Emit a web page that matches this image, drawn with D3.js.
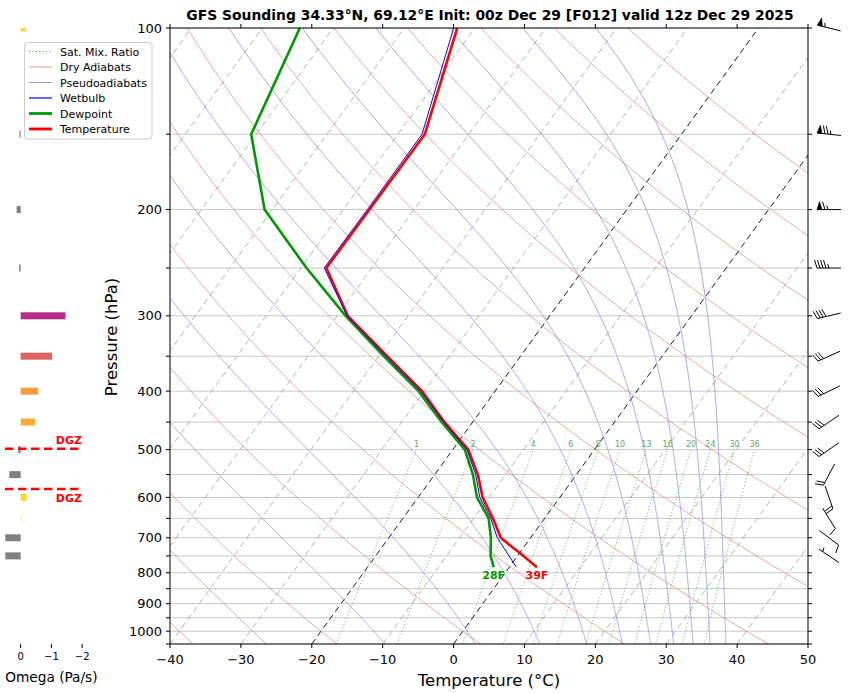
<!DOCTYPE html>
<html><head><meta charset="utf-8">
<script src="https://cdn.jsdelivr.net/npm/d3@7"></script>
<style>
body{margin:0;background:#fff}
svg{display:block}
text{font-family:"DejaVu Sans",sans-serif}
</style>
</head><body>
<svg id="chart" width="851" height="693"></svg>
<script>
// ---------------- DATA ----------------
const titleText = "GFS Sounding 34.33°N, 69.12°E Init: 00z Dec 29 [F012] valid 12z Dec 29 2025";
const levels      = [783, 750, 700, 650, 600, 550, 500, 450, 400, 350, 300, 250, 200, 150, 100];
const temperature = [3.9, 0.8, -4.2, -7.3, -10.9, -13.9, -17.8, -24.0, -30.3, -38.8, -48.5, -56.4, -56.3, -56.2, -62.5];
const dewpoint    = [-2.2, -3.8, -5.6, -7.9, -11.7, -14.6, -18.3, -24.4, -30.8, -39.3, -48.8, -59.2, -71.1, -80.7, -84.7];
const wetbulb     = [1.0, -1.2, -4.7, -7.6, -11.3, -14.2, -18.0, -24.1, -30.5, -39.0, -48.6, -56.7, -56.6, -56.6, -63.0];

const windP   = [100, 150, 200, 250, 300, 350, 400, 450, 500, 550, 600, 650, 700, 750];
const windDir = [284, 276, 270, 270, 257, 246, 244, 236, 235, 208, 161, 148, 127, 304];
const windSpd = [55, 75, 65, 45, 40, 30, 30, 30, 30, 20, 20, 10, 10, 5];

const omegaP   = [100, 150, 200, 250, 300, 350, 400, 450, 500, 550, 600, 650, 700, 750];
const omegaVal = [-0.17, 0.04, 0.13, 0.05, -1.46, -1.02, -0.57, -0.47, 0.08, 0.37, -0.19, -0.02, 0.50, 0.50];

const mixRatios = [1, 2, 4, 6, 8, 10, 13, 16, 20, 24, 30, 36];
const dryThetaC = [-40, -20, 0, 20, 40, 60, 80, 100, 120, 140, 160, 180];
const moistTopTheta = [244.5, 264.5, 284.5, 304.5, 324.5, 344.5, 364.5, 384.5, 404.5, 424.5, 444.5]; // K near 100 hPa
const isotherms = d3.range(-120, 51, 10);
const highlightIsotherms = [0, -20];
const pressureGrid = d3.range(100, 1051, 50);
const pressureLabels = [100, 200, 300, 400, 500, 600, 700, 800, 900, 1000];
const tempTicks = d3.range(-40, 51, 10);
const omegaTicks = [0, -1, -2];
const dgzTemps = [-18, -12];

// ---------------- SETUP ----------------
const svg = d3.select("#chart");
const L = 170, R = 808, T = 28, B = 644;
const xScale = d3.scaleLinear().domain([-40, 50]).range([L, R]);
const yScale = d3.scaleLog().domain([1050, 100]).range([B, T]);
const K = 0.7252;
const sx = (t, p) => xScale(t) + K * (B - yScale(p));

const defs = svg.append("defs");
defs.append("clipPath").attr("id", "plotclip")
  .append("rect").attr("x", L).attr("y", T).attr("width", R - L).attr("height", B - T);
defs.append("clipPath").attr("id", "omegaclip")
  .append("rect").attr("x", 0).attr("y", T).attr("width", 160).attr("height", B - T);

const plot = svg.append("g").attr("clip-path", "url(#plotclip)");
const line = d3.line().x(d => sx(d.t, d.p)).y(d => yScale(d.p));

// isobars
plot.selectAll(".isobar").data(pressureGrid).join("line")
  .attr("x1", L).attr("x2", R).attr("y1", d => yScale(d)).attr("y2", d => yScale(d))
  .attr("stroke", "#c8c8c8").attr("stroke-width", 1);

// isotherms
plot.selectAll(".iso").data(isotherms).join("path")
  .attr("d", t => line([{t, p: 1050}, {t, p: 100}]))
  .attr("fill", "none")
  .attr("stroke", t => highlightIsotherms.includes(t) ? "#000" : "#a0a0a0")
  .attr("stroke-width", t => highlightIsotherms.includes(t) ? 0.9 : 0.8)
  .attr("stroke-dasharray", "6,4");

// dry adiabats
const pSteps = d3.range(1050, 99, -5);
plot.selectAll(".dry").data(dryThetaC).join("path")
  .attr("d", th => line(pSteps.map(p => ({p, t: (th + 273.15) * Math.pow(p / 1000, 0.2857) - 273.15}))))
  .attr("fill", "none").attr("stroke", "#e08a8a").attr("stroke-width", 0.75);

// pseudoadiabats (integrated downward from 100 hPa)
const Rd = 287.04, Cp = 1005.7, Lv = 2.501e6, eps = 0.622;
function dTdp(p, Tk) {
  const es = 6.112 * Math.exp(17.67 * (Tk - 273.15) / (Tk - 29.65));
  const rs = eps * es / (p - es);
  return (Rd * Tk + Lv * rs) / (p * (Cp + Lv * Lv * rs * eps / (Rd * Tk * Tk)));
}
function moistPath(theta) {
  let Tk = theta * Math.pow(0.1, 0.2857), p = 100;
  const pts = [{p, t: Tk - 273.15}];
  const h = 2.5;
  while (p < 1050) {
    const k1 = dTdp(p, Tk), k2 = dTdp(p + h / 2, Tk + h / 2 * k1),
          k3 = dTdp(p + h / 2, Tk + h / 2 * k2), k4 = dTdp(p + h, Tk + h * k3);
    Tk += h / 6 * (k1 + 2 * k2 + 2 * k3 + k4); p += h;
    pts.push({p, t: Tk - 273.15});
  }
  return pts;
}
plot.selectAll(".moist").data(moistTopTheta).join("path")
  .attr("d", th => line(moistPath(th)))
  .attr("fill", "none").attr("stroke", "#8c8ce0").attr("stroke-width", 0.75);

// mixing ratio lines
function mixTd(w, p) {
  const e = (w / 1000) * p / (eps + w / 1000);
  const v = Math.log(e / 6.112);
  return 243.5 * v / (17.67 - v);
}
const mixP = d3.range(1050, 499, -10).concat([500]);
plot.selectAll(".mix").data(mixRatios).join("path")
  .attr("d", w => line(mixP.map(p => ({p, t: mixTd(w, p)}))))
  .attr("fill", "none").attr("stroke", "#3f973f").attr("stroke-width", 0.8)
  .attr("stroke-dasharray", "1.2,2.2").attr("opacity", 0.85);
plot.selectAll(".mixlab").data(mixRatios).join("text")
  .attr("x", w => sx(mixTd(w, 500), 500)).attr("y", yScale(500) - 2.5)
  .attr("text-anchor", "middle").attr("font-size", 8).attr("fill", "#5fa85f")
  .text(w => w);

// profiles
const prof = arr => levels.map((p, i) => ({p, t: arr[i]}));
plot.append("path").attr("d", line(prof(dewpoint))).attr("fill", "none")
  .attr("stroke", "#009a00").attr("stroke-width", 2.6).attr("stroke-linejoin", "round");
plot.append("path").attr("d", line(prof(temperature))).attr("fill", "none")
  .attr("stroke", "#ff0000").attr("stroke-width", 2.6).attr("stroke-linejoin", "round");
plot.append("path").attr("d", line(prof(wetbulb))).attr("fill", "none")
  .attr("stroke", "#0000ff").attr("stroke-width", 1);

// surface labels
const fmtF = c => Math.round(c * 9 / 5 + 32) + "F";
svg.append("text").attr("x", sx(dewpoint[0], levels[0])).attr("y", yScale(levels[0]) + 12)
  .attr("text-anchor", "middle").attr("font-size", 11).attr("font-weight", "bold")
  .attr("fill", "#009a00").text(fmtF(dewpoint[0]));
svg.append("text").attr("x", sx(temperature[0], levels[0])).attr("y", yScale(levels[0]) + 12)
  .attr("text-anchor", "middle").attr("font-size", 11).attr("font-weight", "bold")
  .attr("fill", "#ff0000").text(fmtF(temperature[0]));

// frame
svg.append("rect").attr("x", L).attr("y", T).attr("width", R - L).attr("height", B - T)
  .attr("fill", "none").attr("stroke", "#000").attr("stroke-width", 1);

// y ticks
const ax = svg.append("g");
ax.selectAll(".ytl").data(pressureGrid).join("line")
  .attr("x1", L - 4).attr("x2", L).attr("y1", d => yScale(d)).attr("y2", d => yScale(d))
  .attr("stroke", "#000");
ax.selectAll(".ytr").data(pressureGrid).join("line")
  .attr("x1", R).attr("x2", R + 4).attr("y1", d => yScale(d)).attr("y2", d => yScale(d))
  .attr("stroke", "#000");
ax.selectAll(".ylab").data(pressureLabels).join("text")
  .attr("x", L - 8).attr("y", d => yScale(d) + 4.5).attr("text-anchor", "end")
  .attr("font-size", 13).text(d => d);
// x ticks
ax.selectAll(".xtb").data(tempTicks).join("line")
  .attr("x1", d => xScale(d)).attr("x2", d => xScale(d)).attr("y1", B).attr("y2", B + 4)
  .attr("stroke", "#000");
ax.selectAll(".xtt").data(tempTicks).join("line")
  .attr("x1", d => xScale(d)).attr("x2", d => xScale(d)).attr("y1", T - 4).attr("y2", T)
  .attr("stroke", "#000");
ax.selectAll(".xlab").data(tempTicks).join("text")
  .attr("x", d => xScale(d)).attr("y", B + 20).attr("text-anchor", "middle")
  .attr("font-size", 13).text(d => d < 0 ? "\u2212" + Math.abs(d) : d);

svg.append("text").attr("x", (L + R) / 2).attr("y", 686).attr("text-anchor", "middle")
  .attr("font-size", 16.5).text("Temperature (°C)");
svg.append("text").attr("transform", `translate(117,${(T + B) / 2 + 1}) rotate(-90)`)
  .attr("text-anchor", "middle").attr("font-size", 16.5).text("Pressure (hPa)");
svg.append("text").attr("x", (L + R) / 2 + 1).attr("y", 20).attr("text-anchor", "middle")
  .attr("font-size", 13.9).attr("font-weight", "bold").text(titleText);

// ---------------- OMEGA PANEL ----------------
const ox = d3.scaleLinear().domain([0.5, -2.5]).range([5.3, 97.5]);
const og = svg.append("g").attr("clip-path", "url(#omegaclip)");
og.selectAll(".ob").data(omegaP).join("rect")
  .attr("x", (p, i) => Math.min(ox(0), ox(omegaVal[i])))
  .attr("width", (p, i) => Math.max(0.8, Math.abs(ox(omegaVal[i]) - ox(0))))
  .attr("y", p => yScale(p) - 3.5).attr("height", 7)
  .attr("fill", (p, i) => omegaVal[i] >= 0 ? "#808080" : d3.interpolatePlasma(1 - Math.abs(omegaVal[i]) / 2.5));
svg.selectAll(".ot").data(omegaTicks).join("line")
  .attr("x1", d => ox(d)).attr("x2", d => ox(d)).attr("y1", B).attr("y2", B + 4).attr("stroke", "#000");
svg.selectAll(".otl").data(omegaTicks).join("text")
  .attr("x", d => ox(d)).attr("y", B + 16).attr("text-anchor", "middle").attr("font-size", 10)
  .text(d => d < 0 ? "\u2212" + Math.abs(d) : d);
svg.append("text").attr("x", (ox(0.5) + ox(-2.5)) / 2).attr("y", 682).attr("text-anchor", "middle")
  .attr("font-size", 13.7).text("Omega (Pa/s)");

// DGZ lines (where the temperature profile crosses -18 and -12 C)
function pAtTemp(target) {
  for (let i = 0; i < levels.length - 1; i++) {
    const a = temperature[i], b = temperature[i + 1];
    if ((a - target) * (b - target) <= 0 && a !== b) {
      const f = (target - a) / (b - a);
      return Math.exp(Math.log(levels[i]) + f * (Math.log(levels[i + 1]) - Math.log(levels[i])));
    }
  }
  return null;
}
dgzTemps.forEach((tt, k) => {
  const p = pAtTemp(tt); if (!p) return;
  const y = yScale(p);
  svg.append("line").attr("x1", 5).attr("x2", 81).attr("y1", y).attr("y2", y)
    .attr("stroke", "#ff0000").attr("stroke-width", 2.4).attr("stroke-dasharray", "8.5,4.5");
  svg.append("text").attr("x", 82).attr("y", k === 0 ? y - 5 : y + 13).attr("text-anchor", "end")
    .attr("font-size", 11).attr("font-weight", "bold").attr("fill", "#ff0000").text("DGZ");
});

// ---------------- WIND BARBS ----------------
const barbX = 829, BL = 24, fullH = 8, flagW = 5, spacing = 3;
const bg = svg.append("g");
windP.forEach((p, i) => {
  const th = windDir[i] * Math.PI / 180;
  const s = [Math.sin(th), -Math.cos(th)];   // toward wind source (screen)
  const b = [Math.cos(th), Math.sin(th)];    // barb side (NH)
  const cx = barbX, cy = yScale(p);
  const pt = (ly, lx) => [cx + (ly - BL / 2) * s[0] + lx * b[0], cy + (ly - BL / 2) * s[1] + lx * b[1]];
  let mag = 5 * Math.round(windSpd[i] / 5);
  const nflags = Math.floor(mag / 50); mag -= nflags * 50;
  const nbarbs = Math.floor(mag / 10); mag -= nbarbs * 10;
  const half = mag >= 5;
  let segs = [[pt(0, 0), pt(BL, 0)]];
  let offset = BL;
  for (let f = 0; f < nflags; f++) {
    if (offset !== BL) offset += spacing / 2;
    bg.append("path").attr("d", d3.line()([pt(offset, 0), pt(offset - flagW / 2, fullH), pt(offset - flagW, 0)]) + "Z")
      .attr("fill", "#000").attr("stroke", "#000").attr("stroke-width", 0.6);
    offset -= flagW + spacing;
  }
  for (let j = 0; j < nbarbs; j++) {
    segs.push([pt(offset, 0), pt(offset + flagW / 2, fullH)]);
    offset -= spacing;
  }
  if (half) {
    if (offset === BL) offset -= 1.5 * spacing;
    segs.push([pt(offset, 0), pt(offset + flagW / 4, fullH / 2)]);
  }
  segs.forEach(sg => bg.append("path").attr("d", d3.line()(sg))
    .attr("stroke", "#000").attr("stroke-width", 1).attr("fill", "none"));
});

// ---------------- LEGEND ----------------
const lg = svg.append("g");
lg.append("rect").attr("x", 24.5).attr("y", 42.5).attr("width", 127.5).attr("height", 96.5).attr("rx", 3)
  .attr("fill", "#fff").attr("fill-opacity", 0.85).attr("stroke", "#cccccc");
const legendItems = [
  {label: "Sat. Mix. Ratio", color: "#3f973f", w: 0.9, dash: "1.2,2.2"},
  {label: "Dry Adiabats", color: "#e08a8a", w: 0.9, dash: null},
  {label: "Pseudoadiabats", color: "#8c8ce0", w: 0.9, dash: null},
  {label: "Wetbulb", color: "#0000ff", w: 1.2, dash: null},
  {label: "Dewpoint", color: "#009a00", w: 2.8, dash: null},
  {label: "Temperature", color: "#ff0000", w: 2.8, dash: null}
];
legendItems.forEach((it, i) => {
  const y = 51.5 + i * 15.5;
  const l = lg.append("line").attr("x1", 29).attr("x2", 52).attr("y1", y).attr("y2", y)
    .attr("stroke", it.color).attr("stroke-width", it.w);
  if (it.dash) l.attr("stroke-dasharray", it.dash);
  lg.append("text").attr("x", 60).attr("y", y + 4).attr("font-size", 11).text(it.label);
});
</script>
</body></html>
